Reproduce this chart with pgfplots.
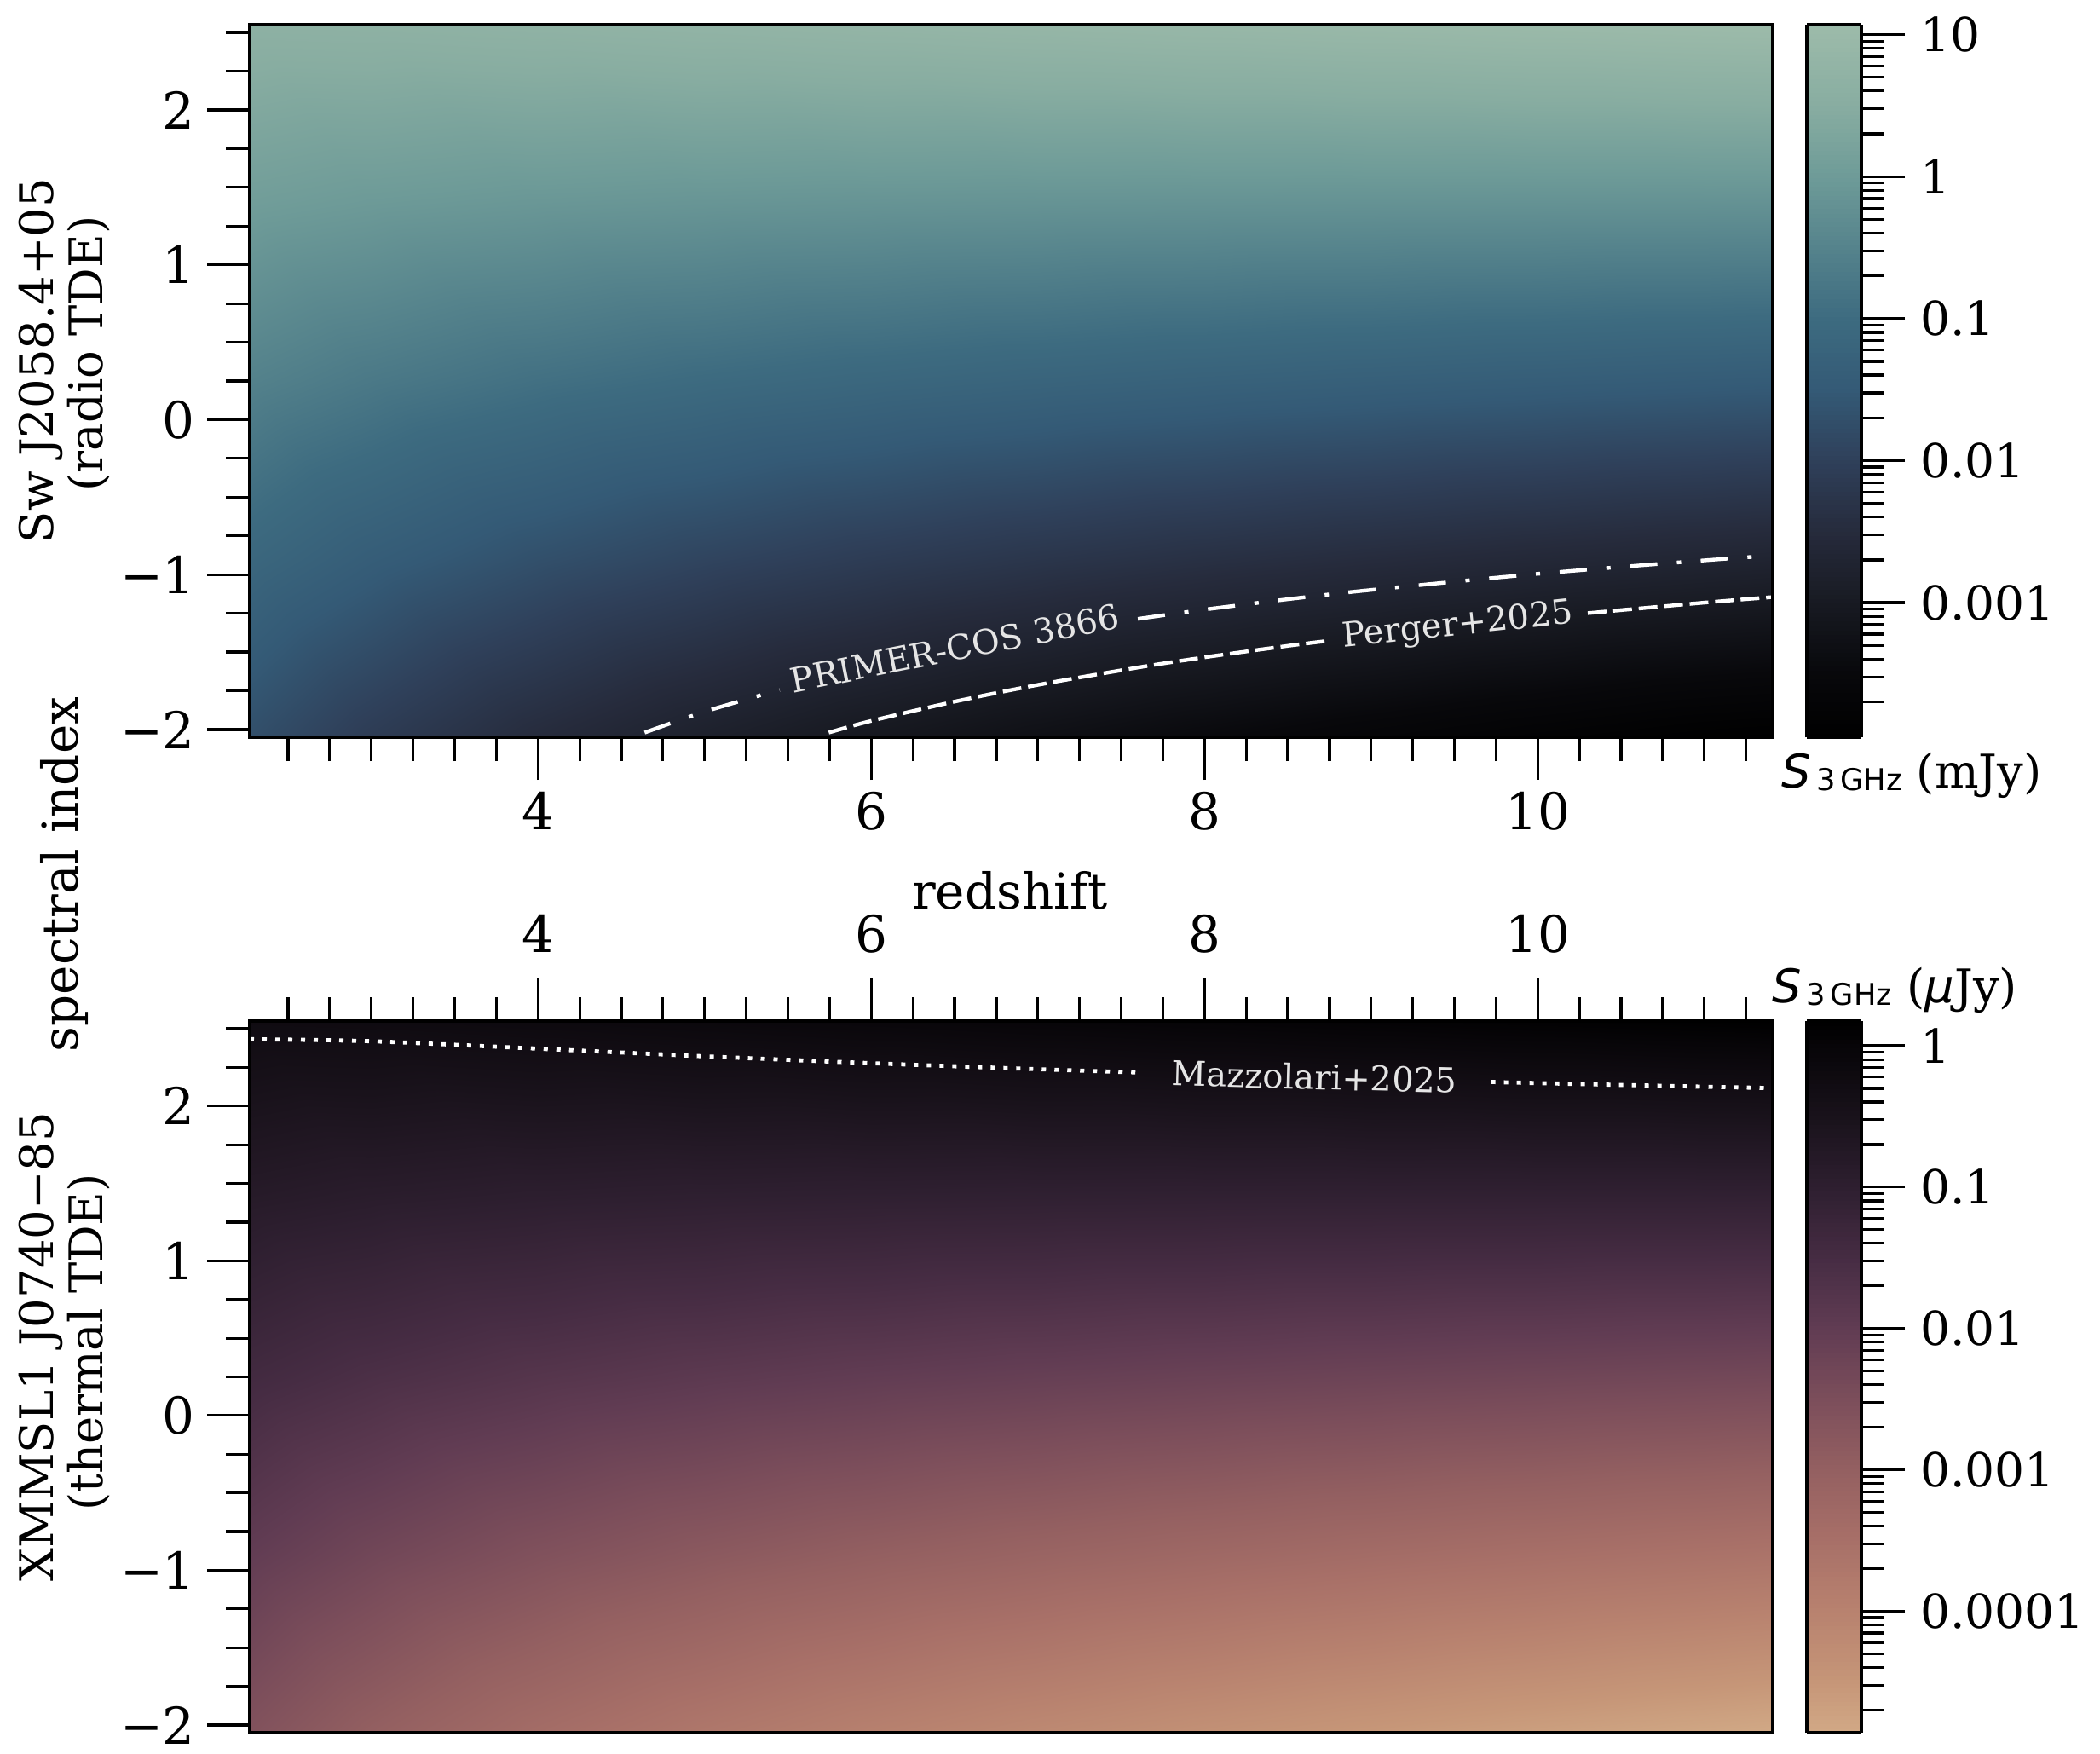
\documentclass[border=0pt]{standalone}
\usepackage{fontspec}
\setmainfont{DejaVu Serif}
\newfontfamily\dvsans{DejaVu Sans}
\usepackage{pgfplots}
\pgfplotsset{compat=1.18}

% colour maps sampled from the two colour bars (positions = log10 flux, shifted)
\pgfplotsset{
  colormap={topmap}{
    rgb255(0pt)=(0,0,0) rgb255(45pt)=(8,8,11) rgb255(95pt)=(24,26,34)
    rgb255(145pt)=(38,43,60) rgb255(195pt)=(47,64,90) rgb255(245pt)=(52,90,118)
    rgb255(295pt)=(61,107,128) rgb255(345pt)=(85,131,140) rgb255(395pt)=(110,155,152)
    rgb255(445pt)=(136,173,161) rgb255(502pt)=(157,187,170)},
  colormap={botmap}{
    rgb255(0pt)=(209,169,134) rgb255(36pt)=(198,150,120) rgb255(86pt)=(184,130,111)
    rgb255(136pt)=(168,112,104) rgb255(186pt)=(148,96,97) rgb255(236pt)=(124,78,91)
    rgb255(286pt)=(97,60,83) rgb255(336pt)=(70,44,67) rgb255(386pt)=(46,31,48)
    rgb255(436pt)=(25,18,27) rgb255(486pt)=(7,5,8) rgb255(504pt)=(0,0,0)},
}

\pgfplotsset{
  panel/.style={
    scale only axis, width=446.75pt,
    xmin=2.27, xmax=11.41, ymin=-2.05, ymax=2.55,
    xtick={4,6,8,10}, xticklabels={4,6,8,10},
    ytick={-2,-1,0,1,2}, yticklabels={−2,−1,0,1,2},
    minor xtick={2.5,2.75,...,11.25},
    minor ytick={-1.75,-1.5,...,2.5},
    tick align=outside, ytick pos=left,
    major tick length=12.5pt, minor tick length=7pt,
    tick style={black, line width=0.8pt},
    axis line style={line width=0.9pt},
    ticklabel style={font=\fontsize{14.9}{17}\selectfont},
    axis on top,
  },
  cbar/.style={
    at={(parent axis.north east)}, anchor=north west, xshift=1.5pt,
    scale only axis, width=16pt, samples=160,
    tick align=outside, ytick pos=right, yticklabel pos=right,
    major tick length=12.75pt, minor tick length=6.5pt,
    tick style={black, line width=0.8pt},
    axis line style={line width=0.9pt},
    yticklabel style={font=\fontsize{13.75}{16}\selectfont, xshift=1pt},
  },
}
\tikzset{clab/.style={text=white!90!black, font=\fontsize{10}{12}\selectfont}}

\newcommand{\cblab}[1]{{\dvsans\itshape S}\hspace{1.5pt}{\dvsans\fontsize{8.8}{9}\selectfont\raisebox{-0.8pt}{3\,GHz}}~(#1)}

\begin{document}
\begin{tikzpicture}

% ---------------- radio TDE ----------------
\begin{axis}[panel, at={(73.25pt,-7.25pt)}, anchor=north west, height=209pt,
  xtick pos=bottom,
  colormap name=topmap, point meta min=-3.948, point meta max=1.069,
  colorbar sampled, colorbar style={cbar, height=209pt,
    ytick={-3,-2,-1,0,1}, yticklabels={0.001,0.01,0.1,1,10},
    minor ytick={-3.699,-3.5229,-3.3979,-3.3010,-3.2218,-3.1549,-3.0969,-3.0458,
      -2.699,-2.5229,-2.3979,-2.3010,-2.2218,-2.1549,-2.0969,-2.0458,
      -1.699,-1.5229,-1.3979,-1.3010,-1.2218,-1.1549,-1.0969,-1.0458,
      -0.699,-0.5229,-0.3979,-0.3010,-0.2218,-0.1549,-0.0969,-0.0458,
      0.3010,0.4771,0.6021,0.6990,0.7782,0.8451,0.9031,0.9542}}]
\addplot[surf, shader=interp, mesh/cols=11, point meta=explicit]
  table[x=z, y=a, meta=s] {
z a s
2.27 -2.05 -1.7186
3 -2.05 -2.1028
4 -2.05 -2.5026
5 -2.05 -2.8142
6 -2.05 -3.0692
7 -2.05 -3.2851
8 -2.05 -3.4721
9 -2.05 -3.6372
10 -2.05 -3.7847
11 -2.05 -3.9182
11.41 -2.05 -3.9695
2.27 -0.9 -1.1268
3 -0.9 -1.4104
4 -0.9 -1.6987
5 -0.9 -1.9193
6 -0.9 -2.0973
7 -0.9 -2.2465
8 -0.9 -2.3748
9 -0.9 -2.4872
10 -0.9 -2.5871
11 -0.9 -2.6771
11.41 -0.9 -2.7116
2.27 0.25 -0.5350
3 0.25 -0.7180
4 0.25 -0.8948
5 0.25 -1.0243
6 0.25 -1.1254
7 0.25 -1.2079
8 0.25 -1.2774
9 0.25 -1.3372
10 0.25 -1.3894
11 0.25 -1.4360
11.41 0.25 -1.4537
2.27 1.4 0.0567
3 1.4 -0.0256
4 1.4 -0.0910
5 1.4 -0.1294
6 1.4 -0.1536
7 1.4 -0.1694
8 1.4 -0.1801
9 1.4 -0.1872
10 1.4 -0.1918
11 1.4 -0.1949
11.41 1.4 -0.1959
2.27 2.55 0.6485
3 2.55 0.6669
4 2.55 0.7129
5 2.55 0.7655
6 2.55 0.8183
7 2.55 0.8692
8 2.55 0.9172
9 2.55 0.9628
10 2.55 1.0058
11 2.55 1.0462
11.41 2.55 1.0620
};
% PRIMER-COS 3866 limit
\addplot[white, line width=1.1pt, smooth, dash pattern=on 8pt off 5.75pt on 1.25pt off 5.75pt]
  coordinates {(4.64,-2.02) (5,-1.885) (5.45,-1.744)};
\addplot[white, line width=1.1pt, smooth, dash pattern=on 8pt off 5.75pt on 1.25pt off 5.75pt]
  coordinates {(7.6,-1.286) (8,-1.226) (8.5,-1.159) (9,-1.099) (10,-0.995) (11,-0.908) (11.41,-0.877)};
% Perger+2025 limit
\addplot[white, line width=1.1pt, smooth, dash pattern=on 5.5pt off 2pt]
  coordinates {(5.745,-2.02) (6,-1.9445) (6.5,-1.820) (7,-1.712) (7.6,-1.600) (8,-1.534) (8.5,-1.460) (8.75,-1.4265)};
\addplot[white, line width=1.1pt, smooth, dash pattern=on 5.5pt off 2pt]
  coordinates {(10.3,-1.249) (11,-1.181) (11.41,-1.145)};
\node[clab, rotate=11.3] at (axis cs:6.5,-1.475) {PRIMER-COS 3866};
\node[clab, rotate=6] at (axis cs:9.52,-1.335) {Perger+2025};
\end{axis}

% ---------------- thermal TDE ----------------
\begin{axis}[panel, at={(73.25pt,-299.5pt)}, anchor=north west, height=208.75pt,
  xtick pos=top, xticklabel pos=top, xticklabel style={yshift=4pt},
  colormap name=botmap, point meta min=-4.86, point meta max=0.175,
  colorbar sampled, colorbar style={cbar, height=208.75pt,
    ytick={-4,-3,-2,-1,0}, yticklabels={0.0001,0.001,0.01,0.1,1},
    minor ytick={-4.699,-4.5229,-4.3979,-4.3010,-4.2218,-4.1549,-4.0969,-4.0458,
      -3.699,-3.5229,-3.3979,-3.3010,-3.2218,-3.1549,-3.0969,-3.0458,
      -2.699,-2.5229,-2.3979,-2.3010,-2.2218,-2.1549,-2.0969,-2.0458,
      -1.699,-1.5229,-1.3979,-1.3010,-1.2218,-1.1549,-1.0969,-1.0458,
      -0.699,-0.5229,-0.3979,-0.3010,-0.2218,-0.1549,-0.0969,-0.0458}}]
\addplot[surf, shader=interp, mesh/cols=11, point meta=explicit]
  table[x=z, y=a, meta=s] {
z a s
2.27 -2.05 -2.6086
3 -2.05 -2.9928
4 -2.05 -3.3926
5 -2.05 -3.7042
6 -2.05 -3.9592
7 -2.05 -4.1751
8 -2.05 -4.3621
9 -2.05 -4.5272
10 -2.05 -4.6747
11 -2.05 -4.8082
11.41 -2.05 -4.8595
2.27 -0.9 -2.0168
3 -0.9 -2.3004
4 -0.9 -2.5887
5 -0.9 -2.8093
6 -0.9 -2.9873
7 -0.9 -3.1365
8 -0.9 -3.2648
9 -0.9 -3.3772
10 -0.9 -3.4771
11 -0.9 -3.5671
11.41 -0.9 -3.6016
2.27 0.25 -1.4250
3 0.25 -1.6080
4 0.25 -1.7848
5 0.25 -1.9143
6 0.25 -2.0154
7 0.25 -2.0979
8 0.25 -2.1674
9 0.25 -2.2272
10 0.25 -2.2794
11 0.25 -2.3260
11.41 0.25 -2.3437
2.27 1.4 -0.8333
3 1.4 -0.9156
4 1.4 -0.9810
5 1.4 -1.0194
6 1.4 -1.0436
7 1.4 -1.0594
8 1.4 -1.0701
9 1.4 -1.0772
10 1.4 -1.0818
11 1.4 -1.0849
11.41 1.4 -1.0859
2.27 2.55 -0.2415
3 2.55 -0.2231
4 2.55 -0.1771
5 2.55 -0.1245
6 2.55 -0.0717
7 2.55 -0.0208
8 2.55 0.0272
9 2.55 0.0728
10 2.55 0.1158
11 2.55 0.1562
11.41 2.55 0.1720
};
% Mazzolari+2025 limit
\addplot[white, line width=1.2pt, smooth, dash pattern=on 1.25pt off 2.5pt]
  coordinates {(2.27,2.4325) (3,2.4193) (4,2.3715) (5,2.3220) (6,2.2775) (7,2.2387) (7.63,2.2168)};
\addplot[white, line width=1.2pt, smooth, dash pattern=on 1.25pt off 2.5pt]
  coordinates {(9.72,2.1563) (10,2.1489) (11,2.1255) (11.41,2.1167)};
\node[clab, rotate=-1.5] at (axis cs:8.66,2.19) {Mazzolari+2025};
\end{axis}

% labels
\node[rotate=90, anchor=base, font=\fontsize{13.6}{16}\selectfont] at (15.75pt,-105.75pt) {Sw J2058.4+05};
\node[rotate=90, anchor=base, font=\fontsize{13.6}{16}\selectfont] at (30pt,-103.75pt) {(radio TDE)};
\node[rotate=90, anchor=base, font=\fontsize{13.6}{16}\selectfont] at (15.75pt,-395pt) {XMMSL1 J0740−85};
\node[rotate=90, anchor=base, font=\fontsize{13.6}{16}\selectfont] at (30pt,-393.75pt) {(thermal TDE)};
\node[rotate=90, anchor=base, font=\fontsize{14.5}{17}\selectfont] at (23pt,-256.5pt) {spectral index};
\node[font=\fontsize{14.5}{17}\selectfont] at (296.25pt,-261.25pt) {redshift};
\node[anchor=base, font=\fontsize{13.6}{16}\selectfont] at (560.75pt,-231pt) {\cblab{mJy}};
\node[anchor=base, font=\fontsize{13.6}{16}\selectfont] at (555.75pt,-294pt) {\cblab{{\dvsans\itshape μ}Jy}};

\pgfresetboundingbox
\path (0pt,0pt) rectangle (616pt,-514.25pt);
\end{tikzpicture}
\end{document}
